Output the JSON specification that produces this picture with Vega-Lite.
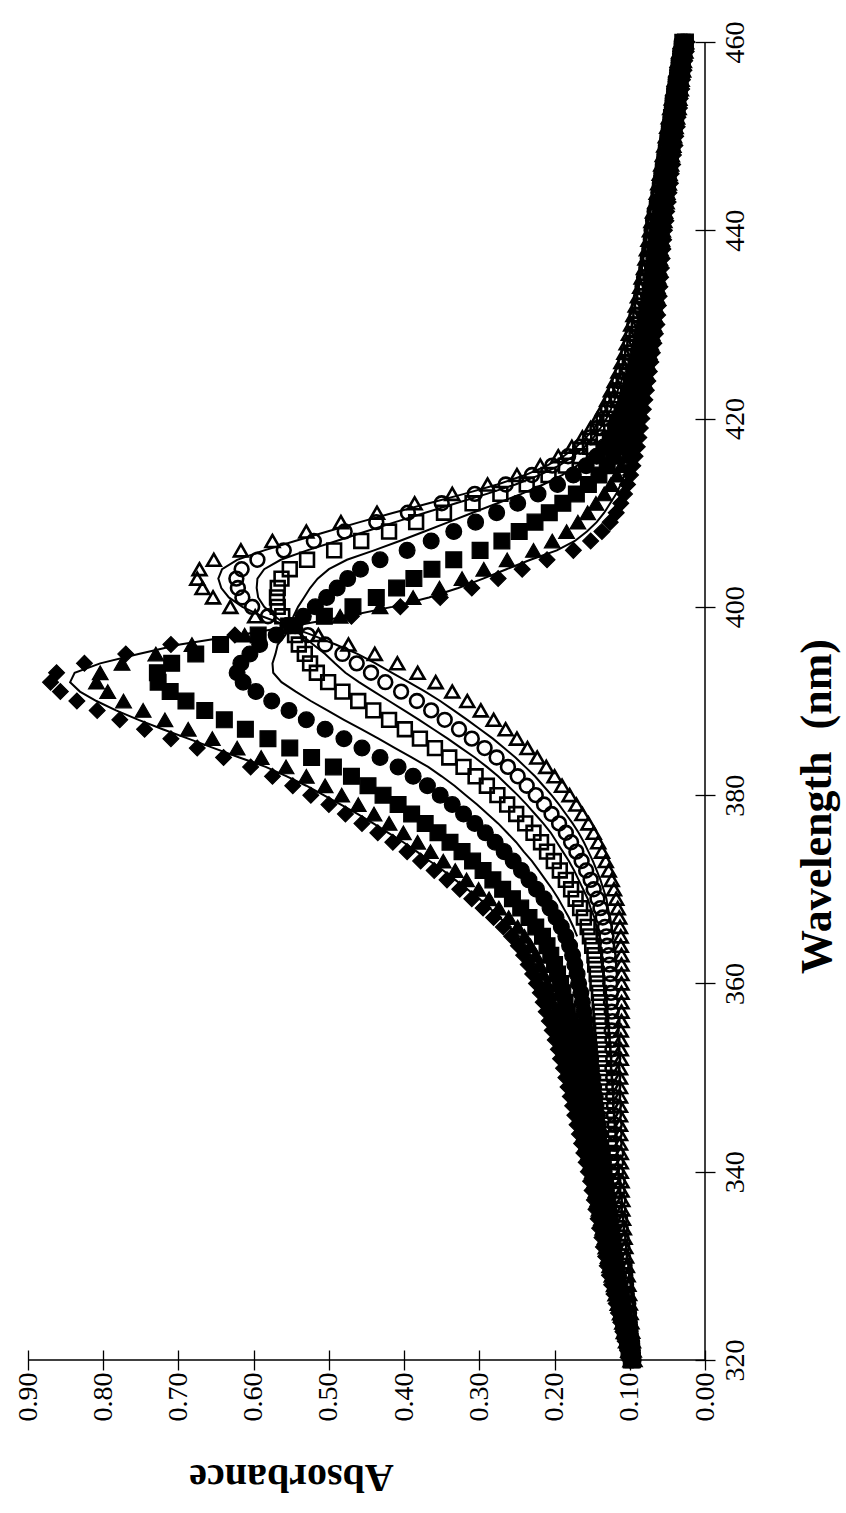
{
"$schema":"https://vega.github.io/schema/vega-lite/v6.json",
"width":677,"height":1318,
"autosize":{"type":"none"},
"padding":{"left":28,"top":42,"right":141,"bottom":153},
"background":"white",
"config":{"view":{"stroke":null},"font":"Liberation Serif"},
"datasets":{
"m":[
{"w":320,"d":0.100,"t":0.099,"s":0.098,"c":0.097,"os":0.096,"oc":0.095,"ot":0.094},
{"w":321,"d":0.103,"t":0.102,"s":0.101,"c":0.099,"os":0.097,"oc":0.096,"ot":0.095},
{"w":322,"d":0.106,"t":0.105,"s":0.103,"c":0.101,"os":0.099,"oc":0.097,"ot":0.096},
{"w":323,"d":0.109,"t":0.108,"s":0.106,"c":0.103,"os":0.100,"oc":0.099,"ot":0.097},
{"w":324,"d":0.112,"t":0.110,"s":0.108,"c":0.105,"os":0.102,"oc":0.100,"ot":0.098},
{"w":325,"d":0.115,"t":0.113,"s":0.111,"c":0.107,"os":0.103,"oc":0.101,"ot":0.099},
{"w":326,"d":0.118,"t":0.116,"s":0.113,"c":0.109,"os":0.105,"oc":0.102,"ot":0.100},
{"w":327,"d":0.121,"t":0.119,"s":0.115,"c":0.111,"os":0.107,"oc":0.104,"ot":0.101},
{"w":328,"d":0.124,"t":0.121,"s":0.118,"c":0.113,"os":0.108,"oc":0.105,"ot":0.102},
{"w":329,"d":0.127,"t":0.124,"s":0.120,"c":0.115,"os":0.110,"oc":0.106,"ot":0.103},
{"w":330,"d":0.130,"t":0.127,"s":0.123,"c":0.117,"os":0.111,"oc":0.107,"ot":0.104},
{"w":331,"d":0.132,"t":0.129,"s":0.124,"c":0.119,"os":0.113,"oc":0.109,"ot":0.105},
{"w":332,"d":0.135,"t":0.132,"s":0.127,"c":0.121,"os":0.114,"oc":0.110,"ot":0.106},
{"w":333,"d":0.137,"t":0.133,"s":0.129,"c":0.122,"os":0.115,"oc":0.111,"ot":0.107},
{"w":334,"d":0.140,"t":0.136,"s":0.131,"c":0.124,"os":0.117,"oc":0.112,"ot":0.108},
{"w":335,"d":0.142,"t":0.138,"s":0.133,"c":0.126,"os":0.118,"oc":0.113,"ot":0.109},
{"w":336,"d":0.145,"t":0.141,"s":0.135,"c":0.128,"os":0.120,"oc":0.115,"ot":0.110},
{"w":337,"d":0.147,"t":0.143,"s":0.137,"c":0.129,"os":0.120,"oc":0.115,"ot":0.110},
{"w":338,"d":0.150,"t":0.145,"s":0.139,"c":0.131,"os":0.122,"oc":0.116,"ot":0.111},
{"w":339,"d":0.152,"t":0.147,"s":0.141,"c":0.132,"os":0.122,"oc":0.116,"ot":0.111},
{"w":340,"d":0.155,"t":0.150,"s":0.143,"c":0.134,"os":0.124,"oc":0.118,"ot":0.112},
{"w":341,"d":0.158,"t":0.152,"s":0.145,"c":0.135,"os":0.125,"oc":0.118,"ot":0.112},
{"w":342,"d":0.161,"t":0.155,"s":0.147,"c":0.137,"os":0.126,"oc":0.118,"ot":0.112},
{"w":343,"d":0.164,"t":0.158,"s":0.150,"c":0.139,"os":0.127,"oc":0.120,"ot":0.113},
{"w":344,"d":0.167,"t":0.161,"s":0.152,"c":0.140,"os":0.128,"oc":0.120,"ot":0.113},
{"w":345,"d":0.170,"t":0.163,"s":0.154,"c":0.142,"os":0.129,"oc":0.120,"ot":0.113},
{"w":346,"d":0.173,"t":0.166,"s":0.156,"c":0.143,"os":0.130,"oc":0.121,"ot":0.113},
{"w":347,"d":0.176,"t":0.168,"s":0.158,"c":0.145,"os":0.131,"oc":0.121,"ot":0.113},
{"w":348,"d":0.179,"t":0.171,"s":0.161,"c":0.146,"os":0.131,"oc":0.122,"ot":0.113},
{"w":349,"d":0.182,"t":0.174,"s":0.163,"c":0.148,"os":0.132,"oc":0.122,"ot":0.113},
{"w":350,"d":0.185,"t":0.176,"s":0.165,"c":0.149,"os":0.133,"oc":0.122,"ot":0.113},
{"w":351,"d":0.188,"t":0.179,"s":0.167,"c":0.151,"os":0.134,"oc":0.123,"ot":0.113},
{"w":352,"d":0.192,"t":0.182,"s":0.170,"c":0.152,"os":0.134,"oc":0.122,"ot":0.112},
{"w":353,"d":0.195,"t":0.185,"s":0.172,"c":0.154,"os":0.135,"oc":0.123,"ot":0.112},
{"w":354,"d":0.199,"t":0.189,"s":0.175,"c":0.156,"os":0.136,"oc":0.123,"ot":0.112},
{"w":355,"d":0.203,"t":0.192,"s":0.178,"c":0.158,"os":0.137,"oc":0.124,"ot":0.112},
{"w":356,"d":0.207,"t":0.195,"s":0.180,"c":0.159,"os":0.138,"oc":0.123,"ot":0.111},
{"w":357,"d":0.211,"t":0.199,"s":0.183,"c":0.161,"os":0.139,"oc":0.124,"ot":0.111},
{"w":358,"d":0.215,"t":0.203,"s":0.186,"c":0.163,"os":0.140,"oc":0.125,"ot":0.111},
{"w":359,"d":0.219,"t":0.206,"s":0.189,"c":0.165,"os":0.141,"oc":0.125,"ot":0.111},
{"w":360,"d":0.224,"t":0.210,"s":0.192,"c":0.168,"os":0.143,"oc":0.126,"ot":0.111},
{"w":361,"d":0.229,"t":0.215,"s":0.196,"c":0.170,"os":0.144,"oc":0.126,"ot":0.111},
{"w":362,"d":0.235,"t":0.220,"s":0.200,"c":0.173,"os":0.146,"oc":0.127,"ot":0.111},
{"w":363,"d":0.241,"t":0.225,"s":0.205,"c":0.176,"os":0.147,"oc":0.128,"ot":0.111},
{"w":364,"d":0.248,"t":0.232,"s":0.210,"c":0.180,"os":0.150,"oc":0.130,"ot":0.112},
{"w":365,"d":0.257,"t":0.240,"s":0.216,"c":0.185,"os":0.153,"oc":0.131,"ot":0.112},
{"w":366,"d":0.268,"t":0.249,"s":0.225,"c":0.191,"os":0.156,"oc":0.133,"ot":0.113},
{"w":367,"d":0.281,"t":0.261,"s":0.234,"c":0.198,"os":0.161,"oc":0.136,"ot":0.114},
{"w":368,"d":0.295,"t":0.274,"s":0.245,"c":0.206,"os":0.166,"oc":0.139,"ot":0.116},
{"w":369,"d":0.310,"t":0.287,"s":0.256,"c":0.214,"os":0.172,"oc":0.143,"ot":0.118},
{"w":370,"d":0.326,"t":0.301,"s":0.269,"c":0.224,"os":0.178,"oc":0.148,"ot":0.121},
{"w":371,"d":0.343,"t":0.317,"s":0.282,"c":0.234,"os":0.185,"oc":0.152,"ot":0.124},
{"w":372,"d":0.360,"t":0.332,"s":0.295,"c":0.244,"os":0.193,"oc":0.158,"ot":0.128},
{"w":373,"d":0.378,"t":0.348,"s":0.309,"c":0.255,"os":0.201,"oc":0.164,"ot":0.132},
{"w":374,"d":0.396,"t":0.365,"s":0.323,"c":0.267,"os":0.210,"oc":0.171,"ot":0.137},
{"w":375,"d":0.415,"t":0.382,"s":0.339,"c":0.279,"os":0.218,"oc":0.178,"ot":0.142},
{"w":376,"d":0.435,"t":0.401,"s":0.355,"c":0.292,"os":0.228,"oc":0.185,"ot":0.148},
{"w":377,"d":0.456,"t":0.420,"s":0.372,"c":0.306,"os":0.239,"oc":0.194,"ot":0.155},
{"w":378,"d":0.478,"t":0.440,"s":0.390,"c":0.321,"os":0.251,"oc":0.204,"ot":0.163},
{"w":379,"d":0.500,"t":0.461,"s":0.408,"c":0.336,"os":0.263,"oc":0.214,"ot":0.171},
{"w":380,"d":0.524,"t":0.483,"s":0.428,"c":0.352,"os":0.276,"oc":0.225,"ot":0.180},
{"w":381,"d":0.548,"t":0.505,"s":0.448,"c":0.369,"os":0.290,"oc":0.237,"ot":0.190},
{"w":382,"d":0.575,"t":0.530,"s":0.470,"c":0.388,"os":0.305,"oc":0.249,"ot":0.200},
{"w":383,"d":0.604,"t":0.557,"s":0.494,"c":0.408,"os":0.321,"oc":0.262,"ot":0.211},
{"w":384,"d":0.640,"t":0.590,"s":0.523,"c":0.432,"os":0.340,"oc":0.277,"ot":0.223},
{"w":385,"d":0.675,"t":0.622,"s":0.552,"c":0.456,"os":0.359,"oc":0.293,"ot":0.236},
{"w":386,"d":0.710,"t":0.655,"s":0.581,"c":0.480,"os":0.379,"oc":0.310,"ot":0.250},
{"w":387,"d":0.745,"t":0.687,"s":0.611,"c":0.505,"os":0.399,"oc":0.327,"ot":0.265},
{"w":388,"d":0.778,"t":0.718,"s":0.639,"c":0.530,"os":0.420,"oc":0.346,"ot":0.281},
{"w":389,"d":0.808,"t":0.747,"s":0.665,"c":0.553,"os":0.441,"oc":0.364,"ot":0.298},
{"w":390,"d":0.835,"t":0.773,"s":0.690,"c":0.576,"os":0.461,"oc":0.383,"ot":0.316},
{"w":391,"d":0.857,"t":0.794,"s":0.711,"c":0.597,"os":0.482,"oc":0.404,"ot":0.336},
{"w":392,"d":0.870,"t":0.809,"s":0.727,"c":0.614,"os":0.501,"oc":0.425,"ot":0.358},
{"w":393,"d":0.862,"t":0.804,"s":0.728,"c":0.622,"os":0.516,"oc":0.444,"ot":0.382},
{"w":394,"d":0.825,"t":0.775,"s":0.709,"c":0.617,"os":0.525,"oc":0.463,"ot":0.409},
{"w":395,"d":0.770,"t":0.730,"s":0.677,"c":0.605,"os":0.532,"oc":0.482,"ot":0.439},
{"w":396,"d":0.710,"t":0.682,"s":0.644,"c":0.592,"os":0.540,"oc":0.505,"ot":0.474},
{"w":397,"d":0.625,"t":0.612,"s":0.594,"c":0.570,"os":0.545,"oc":0.528,"ot":0.514},
{"w":398,"d":0.545,"t":0.546,"s":0.548,"c":0.551,"os":0.554,"oc":0.555,"ot":0.557},
{"w":399,"d":0.470,"t":0.485,"s":0.506,"c":0.534,"os":0.562,"oc":0.581,"ot":0.598},
{"w":400,"d":0.405,"t":0.432,"s":0.468,"c":0.518,"os":0.568,"oc":0.602,"ot":0.631},
{"w":401,"d":0.352,"t":0.388,"s":0.437,"c":0.503,"os":0.569,"oc":0.615,"ot":0.654},
{"w":402,"d":0.310,"t":0.353,"s":0.410,"c":0.489,"os":0.568,"oc":0.621,"ot":0.668},
{"w":403,"d":0.275,"t":0.323,"s":0.387,"c":0.475,"os":0.563,"oc":0.623,"ot":0.675},
{"w":404,"d":0.243,"t":0.294,"s":0.363,"c":0.458,"os":0.552,"oc":0.616,"ot":0.672},
{"w":405,"d":0.210,"t":0.263,"s":0.334,"c":0.432,"os":0.529,"oc":0.595,"ot":0.653},
{"w":406,"d":0.175,"t":0.228,"s":0.299,"c":0.396,"os":0.493,"oc":0.560,"ot":0.617},
{"w":407,"d":0.152,"t":0.203,"s":0.270,"c":0.364,"os":0.457,"oc":0.520,"ot":0.575},
{"w":408,"d":0.137,"t":0.184,"s":0.247,"c":0.334,"os":0.420,"oc":0.479,"ot":0.530},
{"w":409,"d":0.126,"t":0.169,"s":0.226,"c":0.305,"os":0.384,"oc":0.437,"ot":0.484},
{"w":410,"d":0.118,"t":0.156,"s":0.207,"c":0.277,"os":0.347,"oc":0.395,"ot":0.436},
{"w":411,"d":0.112,"t":0.145,"s":0.189,"c":0.249,"os":0.309,"oc":0.350,"ot":0.386},
{"w":412,"d":0.107,"t":0.134,"s":0.171,"c":0.222,"os":0.272,"oc":0.306,"ot":0.336},
{"w":413,"d":0.103,"t":0.125,"s":0.155,"c":0.196,"os":0.237,"oc":0.265,"ot":0.289},
{"w":414,"d":0.099,"t":0.117,"s":0.141,"c":0.175,"os":0.208,"oc":0.230,"ot":0.250},
{"w":415,"d":0.096,"t":0.111,"s":0.130,"c":0.158,"os":0.185,"oc":0.203,"ot":0.219},
{"w":416,"d":0.093,"t":0.105,"s":0.122,"c":0.144,"os":0.166,"oc":0.182,"ot":0.195},
{"w":417,"d":0.090,"t":0.100,"s":0.114,"c":0.134,"os":0.153,"oc":0.166,"ot":0.177},
{"w":418,"d":0.088,"t":0.097,"s":0.109,"c":0.126,"os":0.142,"oc":0.153,"ot":0.163},
{"w":419,"d":0.086,"t":0.094,"s":0.104,"c":0.119,"os":0.134,"oc":0.143,"ot":0.152},
{"w":420,"d":0.084,"t":0.091,"s":0.101,"c":0.114,"os":0.126,"oc":0.135,"ot":0.143},
{"w":421,"d":0.082,"t":0.088,"s":0.097,"c":0.109,"os":0.121,"oc":0.129,"ot":0.136},
{"w":422,"d":0.080,"t":0.086,"s":0.094,"c":0.105,"os":0.116,"oc":0.124,"ot":0.130},
{"w":423,"d":0.078,"t":0.084,"s":0.091,"c":0.102,"os":0.112,"oc":0.119,"ot":0.125},
{"w":424,"d":0.076,"t":0.081,"s":0.088,"c":0.098,"os":0.108,"oc":0.114,"ot":0.120},
{"w":425,"d":0.074,"t":0.079,"s":0.085,"c":0.095,"os":0.104,"oc":0.110,"ot":0.115},
{"w":426,"d":0.072,"t":0.077,"s":0.083,"c":0.092,"os":0.100,"oc":0.106,"ot":0.111},
{"w":427,"d":0.070,"t":0.074,"s":0.080,"c":0.089,"os":0.097,"oc":0.102,"ot":0.107},
{"w":428,"d":0.068,"t":0.072,"s":0.078,"c":0.086,"os":0.094,"oc":0.099,"ot":0.104},
{"w":429,"d":0.066,"t":0.070,"s":0.076,"c":0.084,"os":0.091,"oc":0.096,"ot":0.101},
{"w":430,"d":0.064,"t":0.068,"s":0.074,"c":0.081,"os":0.088,"oc":0.094,"ot":0.098},
{"w":431,"d":0.063,"t":0.067,"s":0.072,"c":0.079,"os":0.086,"oc":0.091,"ot":0.095},
{"w":432,"d":0.062,"t":0.066,"s":0.070,"c":0.077,"os":0.084,"oc":0.088,"ot":0.092},
{"w":433,"d":0.061,"t":0.064,"s":0.069,"c":0.075,"os":0.081,"oc":0.085,"ot":0.089},
{"w":434,"d":0.060,"t":0.063,"s":0.067,"c":0.073,"os":0.079,"oc":0.083,"ot":0.086},
{"w":435,"d":0.059,"t":0.062,"s":0.066,"c":0.072,"os":0.077,"oc":0.081,"ot":0.084},
{"w":436,"d":0.058,"t":0.061,"s":0.064,"c":0.070,"os":0.075,"oc":0.078,"ot":0.081},
{"w":437,"d":0.057,"t":0.060,"s":0.063,"c":0.068,"os":0.073,"oc":0.076,"ot":0.079},
{"w":438,"d":0.056,"t":0.059,"s":0.062,"c":0.067,"os":0.071,"oc":0.074,"ot":0.077},
{"w":439,"d":0.055,"t":0.057,"s":0.061,"c":0.065,"os":0.069,"oc":0.072,"ot":0.075},
{"w":440,"d":0.054,"t":0.056,"s":0.059,"c":0.064,"os":0.068,"oc":0.071,"ot":0.073},
{"w":441,"d":0.052,"t":0.054,"s":0.057,"c":0.062,"os":0.066,"oc":0.069,"ot":0.071},
{"w":442,"d":0.051,"t":0.053,"s":0.056,"c":0.060,"os":0.064,"oc":0.067,"ot":0.069},
{"w":443,"d":0.049,"t":0.051,"s":0.054,"c":0.058,"os":0.061,"oc":0.064,"ot":0.066},
{"w":444,"d":0.048,"t":0.050,"s":0.052,"c":0.056,"os":0.060,"oc":0.062,"ot":0.064},
{"w":445,"d":0.046,"t":0.048,"s":0.050,"c":0.054,"os":0.058,"oc":0.060,"ot":0.062},
{"w":446,"d":0.045,"t":0.047,"s":0.049,"c":0.053,"os":0.056,"oc":0.058,"ot":0.060},
{"w":447,"d":0.043,"t":0.045,"s":0.047,"c":0.051,"os":0.054,"oc":0.056,"ot":0.058},
{"w":448,"d":0.042,"t":0.044,"s":0.046,"c":0.049,"os":0.052,"oc":0.054,"ot":0.056},
{"w":449,"d":0.040,"t":0.042,"s":0.044,"c":0.047,"os":0.050,"oc":0.052,"ot":0.054},
{"w":450,"d":0.039,"t":0.041,"s":0.043,"c":0.046,"os":0.048,"oc":0.050,"ot":0.052},
{"w":451,"d":0.037,"t":0.039,"s":0.041,"c":0.044,"os":0.046,"oc":0.048,"ot":0.050},
{"w":452,"d":0.036,"t":0.037,"s":0.039,"c":0.042,"os":0.045,"oc":0.046,"ot":0.048},
{"w":453,"d":0.034,"t":0.035,"s":0.037,"c":0.040,"os":0.043,"oc":0.044,"ot":0.046},
{"w":454,"d":0.033,"t":0.034,"s":0.036,"c":0.039,"os":0.041,"oc":0.043,"ot":0.044},
{"w":455,"d":0.031,"t":0.032,"s":0.034,"c":0.037,"os":0.039,"oc":0.041,"ot":0.042},
{"w":456,"d":0.030,"t":0.031,"s":0.033,"c":0.035,"os":0.037,"oc":0.039,"ot":0.040},
{"w":457,"d":0.028,"t":0.029,"s":0.031,"c":0.033,"os":0.035,"oc":0.037,"ot":0.038},
{"w":458,"d":0.027,"t":0.028,"s":0.030,"c":0.032,"os":0.033,"oc":0.035,"ot":0.036},
{"w":459,"d":0.025,"t":0.026,"s":0.028,"c":0.030,"os":0.031,"oc":0.033,"ot":0.034},
{"w":460,"d":0.024,"t":0.025,"s":0.026,"c":0.028,"os":0.030,"oc":0.031,"ot":0.032}
],
"ln":[
{"w":365,"l1":0.250,"l2":0.170,"l3":0.141,"l4":0.122},
{"w":366,"l1":0.260,"l2":0.175,"l3":0.144,"l4":0.124},
{"w":367,"l1":0.273,"l2":0.181,"l3":0.147,"l4":0.126},
{"w":368,"l1":0.286,"l2":0.188,"l3":0.152,"l4":0.129},
{"w":369,"l1":0.300,"l2":0.195,"l3":0.156,"l4":0.131},
{"w":370,"l1":0.316,"l2":0.203,"l3":0.162,"l4":0.135},
{"w":371,"l1":0.332,"l2":0.212,"l3":0.168,"l4":0.139},
{"w":372,"l1":0.348,"l2":0.221,"l3":0.174,"l4":0.144},
{"w":373,"l1":0.366,"l2":0.230,"l3":0.181,"l4":0.149},
{"w":374,"l1":0.383,"l2":0.241,"l3":0.189,"l4":0.155},
{"w":375,"l1":0.401,"l2":0.251,"l3":0.197,"l4":0.161},
{"w":376,"l1":0.421,"l2":0.263,"l3":0.205,"l4":0.168},
{"w":377,"l1":0.441,"l2":0.275,"l3":0.215,"l4":0.176},
{"w":378,"l1":0.462,"l2":0.289,"l3":0.226,"l4":0.185},
{"w":379,"l1":0.484,"l2":0.303,"l3":0.237,"l4":0.194},
{"w":380,"l1":0.507,"l2":0.318,"l3":0.249,"l4":0.204},
{"w":381,"l1":0.530,"l2":0.333,"l3":0.262,"l4":0.215},
{"w":382,"l1":0.556,"l2":0.350,"l3":0.275,"l4":0.226},
{"w":383,"l1":0.584,"l2":0.368,"l3":0.290,"l4":0.239},
{"w":384,"l1":0.619,"l2":0.390,"l3":0.306,"l4":0.252},
{"w":385,"l1":0.653,"l2":0.412,"l3":0.324,"l4":0.267},
{"w":386,"l1":0.687,"l2":0.434,"l3":0.342,"l4":0.282},
{"w":387,"l1":0.721,"l2":0.457,"l3":0.361,"l4":0.299},
{"w":388,"l1":0.753,"l2":0.480,"l3":0.380,"l4":0.316},
{"w":389,"l1":0.783,"l2":0.502,"l3":0.400,"l4":0.334},
{"w":390,"l1":0.809,"l2":0.524,"l3":0.420,"l4":0.352},
{"w":391,"l1":0.831,"l2":0.544,"l3":0.440,"l4":0.372},
{"w":392,"l1":0.844,"l2":0.563,"l3":0.460,"l4":0.394},
{"w":393,"l1":0.838,"l2":0.574,"l3":0.478,"l4":0.416},
{"w":394,"l1":0.804,"l2":0.575,"l3":0.492,"l4":0.438},
{"w":395,"l1":0.753,"l2":0.571,"l3":0.505,"l4":0.462},
{"w":396,"l1":0.698,"l2":0.568,"l3":0.521,"l4":0.491},
{"w":397,"l1":0.619,"l2":0.558,"l3":0.536,"l4":0.522},
{"w":398,"l1":0.546,"l2":0.552,"l3":0.555,"l4":0.556},
{"w":399,"l1":0.476,"l2":0.547,"l3":0.572,"l4":0.589},
{"w":400,"l1":0.416,"l2":0.541,"l3":0.586,"l4":0.615},
{"w":401,"l1":0.367,"l2":0.533,"l3":0.594,"l4":0.633},
{"w":402,"l1":0.328,"l2":0.525,"l3":0.596,"l4":0.643},
{"w":403,"l1":0.295,"l2":0.515,"l3":0.595,"l4":0.647},
{"w":404,"l1":0.264,"l2":0.500,"l3":0.586,"l4":0.642},
{"w":405,"l1":0.232,"l2":0.476,"l3":0.564,"l4":0.622},
{"w":406,"l1":0.197,"l2":0.440,"l3":0.529,"l4":0.586},
{"w":407,"l1":0.173,"l2":0.406,"l3":0.490,"l4":0.545},
{"w":408,"l1":0.157,"l2":0.373,"l3":0.451,"l4":0.502},
{"w":409,"l1":0.144,"l2":0.341,"l3":0.412,"l4":0.459},
{"w":410,"l1":0.134,"l2":0.309,"l3":0.372,"l4":0.414},
{"w":411,"l1":0.126,"l2":0.276,"l3":0.331,"l4":0.367},
{"w":412,"l1":0.118,"l2":0.244,"l3":0.290,"l4":0.320},
{"w":413,"l1":0.112,"l2":0.215,"l3":0.252,"l4":0.276},
{"w":414,"l1":0.107,"l2":0.190,"l3":0.220,"l4":0.239},
{"w":415,"l1":0.102,"l2":0.170,"l3":0.194,"l4":0.210},
{"w":416,"l1":0.098,"l2":0.154,"l3":0.175,"l4":0.188},
{"w":417,"l1":0.094,"l2":0.142,"l3":0.160,"l4":0.171},
{"w":418,"l1":0.092,"l2":0.133,"l3":0.148,"l4":0.158},
{"w":419,"l1":0.089,"l2":0.126,"l3":0.139,"l4":0.147},
{"w":420,"l1":0.087,"l2":0.119,"l3":0.131,"l4":0.139},
{"w":421,"l1":0.085,"l2":0.114,"l3":0.125,"l4":0.132},
{"w":422,"l1":0.083,"l2":0.110,"l3":0.120,"l4":0.127},
{"w":423,"l1":0.080,"l2":0.106,"l3":0.116,"l4":0.122},
{"w":424,"l1":0.078,"l2":0.102,"l3":0.111,"l4":0.117},
{"w":425,"l1":0.076,"l2":0.099,"l3":0.107,"l4":0.112}
]
},
"layer":[
{
"data":{"name":"ln"},
"transform":[{"fold":["l1","l2","l3","l4"],"as":["key","value"]}],
"mark":{"type":"line","color":"black","strokeWidth":2},
"encoding":{
"x":{"field":"value","type":"quantitative","scale":{"domain":[0,0.9],"reverse":true,"nice":false,"zero":false},
"axis":{"title":"Absorbance","orient":"bottom","values":[0,0.1,0.2,0.3,0.4,0.5,0.6,0.7,0.8,0.9],"format":".2f","grid":false,"domain":false,"offset":-10,"tickSize":20,"tickWidth":1.3,"tickColor":"black","labelAngle":-90,"labelAlign":"right","labelBaseline":"middle","labelPadding":2,"labelFont":"Liberation Serif","labelFontSize":28,"labelColor":"black","labelOverlap":false,"labelFlush":false,"titleFont":"Liberation Serif","titleFontSize":40,"titleFontWeight":"bold","titleColor":"black","titleAngle":180,"titleAlign":"center","titleBaseline":"middle","titleX":263,"titleY":126}},
"y":{"field":"w","type":"quantitative","scale":{"domain":[320,460],"nice":false,"zero":false},
"axis":{"title":"Wavelength\u00a0\u00a0(nm)","orient":"right","values":[320,340,360,380,400,420,440,460],"grid":false,"domain":false,"offset":-10,"tickSize":20,"tickWidth":1.3,"tickColor":"black","labelAngle":-90,"labelAlign":"center","labelBaseline":"top","labelPadding":6,"labelFont":"Liberation Serif","labelFontSize":28,"labelColor":"black","labelOverlap":false,"labelFlush":false,"titleFont":"Liberation Serif","titleFontSize":44,"titleFontWeight":"bold","titleColor":"black","titleAngle":-90,"titleAlign":"center","titleBaseline":"middle","titleX":122,"titleY":764}},
"detail":{"field":"key","type":"nominal"},
"order":{"field":"w","type":"quantitative"}
}
},
{
"data":{"name":"m"},
"transform":[{"fold":["d","t","s","c"],"as":["key","value"]}],
"mark":{"type":"point","filled":true,"size":250,"color":"black","stroke":"black","strokeWidth":1.2,"opacity":1},
"encoding":{
"x":{"field":"value","type":"quantitative","title":"Absorbance"},
"y":{"field":"w","type":"quantitative","title":"Wavelength\u00a0\u00a0(nm)"},
"shape":{"field":"key","type":"nominal","scale":{"domain":["d","t","s","c","os","oc","ot"],"range":["diamond","triangle-up","square","circle","square","circle","triangle-up"]},"legend":null}
}
},
{
"data":{"name":"m"},
"transform":[{"fold":["os","oc","ot"],"as":["key","value"]}],
"mark":{"type":"point","filled":false,"size":190,"color":"black","strokeWidth":2.6,"opacity":1},
"encoding":{
"x":{"field":"value","type":"quantitative","title":"Absorbance"},
"y":{"field":"w","type":"quantitative","title":"Wavelength\u00a0\u00a0(nm)"},
"shape":{"field":"key","type":"nominal","scale":{"domain":["d","t","s","c","os","oc","ot"],"range":["diamond","triangle-up","square","circle","square","circle","triangle-up"]},"legend":null}
}
},
{
"data":{"values":[{}]},
"mark":{"type":"rule","color":"black","strokeWidth":1.5},
"encoding":{"y":{"datum":320,"type":"quantitative"}}
},
{
"data":{"values":[{}]},
"mark":{"type":"rule","color":"black","strokeWidth":1.5},
"encoding":{"x":{"datum":0,"type":"quantitative"}}
}
]
}
